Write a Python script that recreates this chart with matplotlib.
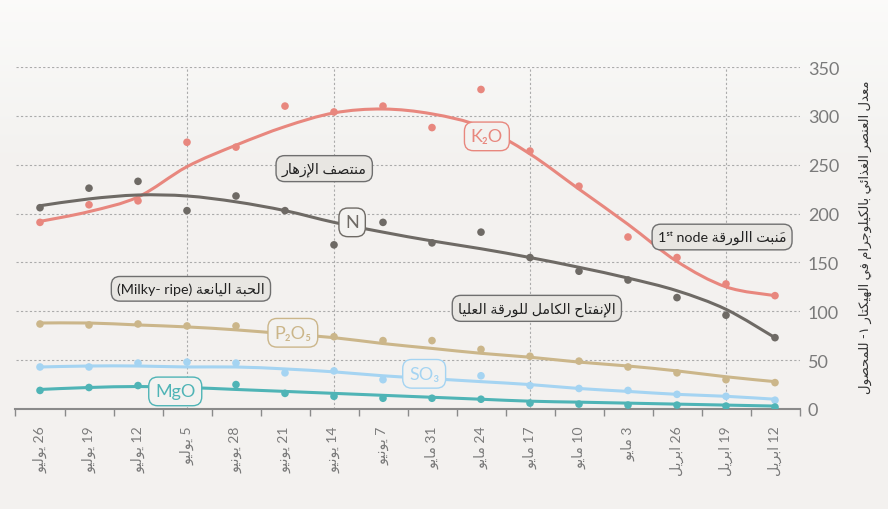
import numpy as np
import matplotlib.pyplot as plt
from matplotlib.path import Path
from matplotlib.patches import PathPatch

plt.rcParams['font.family'] = ['Lato', 'DejaVu Sans']

# x axis: weekly sampling dates, newest on the right
days = ['26', '19', '12', '5', '28', '21', '14', '7', '31', '24', '17', '10', '3', '26', '19', '12']
months = ['يوليو'] * 4 + ['يونيو'] * 4 + ['مايو'] * 5 + ['ابريل'] * 3

k2o = [191, 209, 213, 273, 268, 310, 304, 310, 288, 327, 264, 228, 176, 155, 128, 116]
n = [206, 226, 233, 203, 218, 203, 168, 191, 170, 181, 155, 141, 132, 114, 96, 73]
p2o5 = [87, 86, 87, 85, 85, 80, 74, 70, 70, 61, 54, 49, 43, 37, 30, 27]
so3 = [43, 43, 47, 48, 47, 37, 39, 30, 32, 34, 24, 21, 19, 15, 13, 9]
mgo = [19, 22, 24, 22, 25, 16, 13, 11, 11, 10, 6, 5, 4, 4, 3, 2]

# smoothed trend lines at each date
k2o_trend = [192, 202, 217, 248, 270, 289, 303, 307, 302, 289, 261, 225, 189, 151, 125, 116]
n_trend = [208, 215, 219, 218, 212, 203, 191, 181, 172, 164, 155, 145, 134, 121, 102, 73]
p2o5_trend = [88, 88, 86, 84, 81, 77, 73, 67, 62, 57, 53, 48, 44, 39, 33, 28]
so3_trend = [43, 44, 44, 43, 43, 41, 38, 34, 31, 28, 25, 21, 18, 15, 13, 10]
mgo_trend = [20, 22, 23, 22, 20, 18, 16, 14, 12, 10, 8, 7, 6, 5, 4, 3]

series = [
    ('K₂O', k2o, k2o_trend, '#e8877e', (9.12, 279)),
    ('N', n, n_trend, '#6e6a65', (6.37, 191)),
    ('P₂O₅', p2o5, p2o5_trend, '#cbb68a', (5.16, 78)),
    ('SO₃', so3, so3_trend, '#a5d4f2', (7.84, 36)),
    ('MgO', mgo, mgo_trend, '#4fb4b6', (2.76, 18)),
]

# growth stage notes
stages = ['منتصف الإزهار', 'الحبة اليانعة', 'الإنفتاح الكامل للورقة العليا', 'مَنبت االورقة']
stage_pos = [(5.8, 246), (3.08, 123), (10.14, 103), (13.92, 176)]
stage_vlines = [3, 6, 10, 14]

ylabel = 'معدل العنصر الغذائي بالكيلوجرام في الهيكتار ١- للمحصول'

# --- tiny arabic shaper: matplotlib has no text shaping, so use presentation forms ---
LETTERS = 'ءآأؤإئابةتثجحخدذرزسشصضطظعغفقكلمنهوىي'
COUNTS = [1, 2, 2, 2, 2, 4, 2, 4, 2, 4, 4, 4, 4, 4, 2, 2, 2, 2, 4, 4,
          4, 4, 4, 4, 4, 4, 4, 4, 4, 4, 4, 4, 4, 2, 2, 4]
FORMS = {}
code = 0xFE80
for ch, cnt in zip(LETTERS, COUNTS):
    FORMS[ch] = (code, cnt)
    code += cnt
LAM_ALEF = {'ا': 0xFEFB, 'أ': 0xFEF7, 'إ': 0xFEF9, 'آ': 0xFEF5}


def is_mark(c):
    return '\u064b' <= c <= '\u0652'


def ar(text):
    chars = list(text)
    size = len(chars)
    out = []
    i = 0
    while i < size:
        c = chars[i]
        if is_mark(c):
            # put the mark first so it lands over its letter once reversed
            out[-1] = c + out[-1]
            i += 1
            continue
        if c not in FORMS:
            out.append(c)
            i += 1
            continue
        j = i - 1
        while j >= 0 and is_mark(chars[j]):
            j -= 1
        prev = chars[j] if j >= 0 else None
        right = prev in FORMS and FORMS[prev][1] == 4 and FORMS[c][1] >= 2
        j = i + 1
        while j < size and is_mark(chars[j]):
            j += 1
        nxt = chars[j] if j < size else None
        if c == 'ل' and nxt in LAM_ALEF:
            out.append(chr(LAM_ALEF[nxt] + (1 if right else 0)))
            i = j + 1
            continue
        left = FORMS[c][1] == 4 and nxt in FORMS and FORMS[nxt][1] >= 2
        off = 3 if (right and left) else 1 if right else 2 if left else 0
        out.append(chr(FORMS[c][0] + off))
        i += 1
    return ''.join(reversed(out))


def smooth_line(ax, xv, yv, color):
    # catmull-rom through the trend values, drawn as bezier path
    pts = np.column_stack([xv, yv]).astype(float)
    verts = [pts[0]]
    codes = [Path.MOVETO]
    for i in range(len(pts) - 1):
        p0 = pts[max(i - 1, 0)]
        p1 = pts[i]
        p2 = pts[i + 1]
        p3 = pts[min(i + 2, len(pts) - 1)]
        verts += [p1 + (p2 - p0) / 6, p2 - (p3 - p1) / 6, p2]
        codes += [Path.CURVE4] * 3
    ax.add_patch(PathPatch(Path(verts, codes), fc='none', ec=color, lw=2.2, zorder=3, capstyle='round'))


fig = plt.figure(figsize=(8.88, 5.10), dpi=100)
fig.patch.set_facecolor('#f3f2f0')

# soft background gradient, lighter at the top
bg = fig.add_axes([0, 0, 1, 1], zorder=-10)
t = np.clip(np.linspace(0, 1, 200) / 0.3, 0, 1)[:, None, None]
top = np.array([0.985, 0.983, 0.978])
base = np.array([0.953, 0.949, 0.941])
bg.imshow(top * (1 - t) + base * t, aspect='auto', extent=[0, 1, 0, 1])
bg.axis('off')

ax = fig.add_axes([15.5 / 888, 100 / 510, 784 / 888, 342 / 510])
ax.set_facecolor('none')
ax.set_xlim(-0.5, 15.5)
ax.set_ylim(0, 350)

for v in range(50, 351, 50):
    ax.axhline(v, color='#ababab', ls=(0, (2, 2)), lw=0.8, zorder=0)
for v in stage_vlines:
    ax.axvline(v, color='#ababab', ls=(0, (2, 2)), lw=0.8, zorder=0)

x = np.arange(16)
for name, vals, trend, color, (tx, ty) in series:
    smooth_line(ax, x, trend, color)
    ax.scatter(x, vals, s=30, color=color, edgecolors='none', zorder=3)
    ax.text(tx, ty, name, ha='center', va='center', fontsize=13, color=color, zorder=6,
            bbox=dict(boxstyle='round,pad=0.35,rounding_size=0.5', fc='#f3f2f0', ec=color, lw=1))

stage_texts = [ar(stages[0]), '(Milky- ripe) ' + ar(stages[1]), ar(stages[2]), '1ˢᵗ node ' + ar(stages[3])]
for txt, (tx, ty) in zip(stage_texts, stage_pos):
    ax.text(tx, ty, txt, ha='center', va='center', fontsize=10.3, color='#222222', zorder=6,
            bbox=dict(boxstyle='round,pad=0.4,rounding_size=0.6', fc='#e8e6e2', ec='#6f6f6f', lw=1))

for s in ['top', 'left', 'right']:
    ax.spines[s].set_visible(False)
ax.spines['bottom'].set_color('#8a8a8a')
ax.spines['bottom'].set_linewidth(1.5)

ax.set_xticks(x)
ax.set_xticklabels([ar(m) + ' ' + d for d, m in zip(days, months)], rotation=90,
                   va='top', ha='center', fontsize=10, color='#7a7a7a')
ax.set_xticks(np.arange(-0.5, 16, 1), minor=True)
ax.tick_params(axis='x', which='major', length=0, pad=12)
ax.tick_params(axis='x', which='minor', length=5, color='#8a8a8a', width=1)

ax.yaxis.tick_right()
ax.set_yticks(range(0, 351, 50))
ax.tick_params(axis='y', length=0, pad=6, labelsize=13, labelcolor='#7a7a7a')

fig.text(0.975, 0.535, ar(ylabel), rotation=90, ha='center', va='center', fontsize=9.5, color='#333333')

plt.savefig('out.png', dpi=100, facecolor=fig.get_facecolor())
plt.close()
